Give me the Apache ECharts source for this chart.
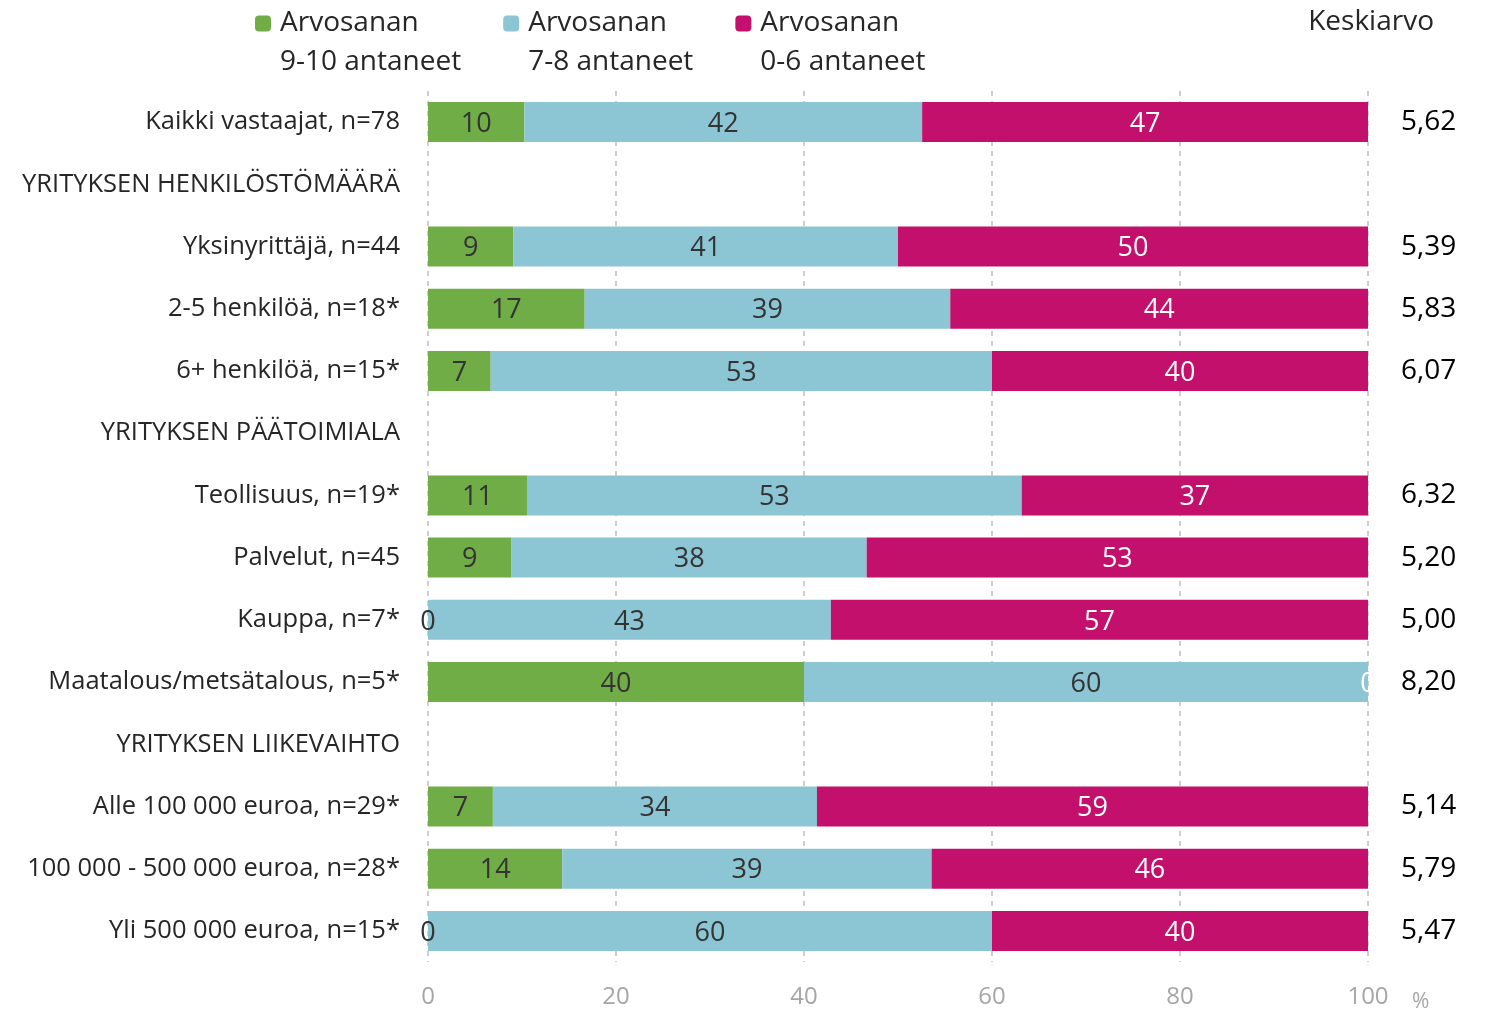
<!DOCTYPE html>
<html>
<head>
<meta charset="utf-8">
<title>Arvosanat</title>
<script src="https://cdn.jsdelivr.net/npm/echarts@6/dist/echarts.min.js"></script>
<style>
  html, body { margin: 0; padding: 0; background: #fff; }
  #chart { width: 1486px; height: 1016px; }
</style>
</head>
<body>
<div id="chart"></div>
<script>
// rivit ylhäältä alas, väliotsikoilla ei arvoja
var categories = [
	'Kaikki vastaajat, n=78',
	'YRITYKSEN HENKILÖSTÖMÄÄRÄ',
	'Yksinyrittäjä, n=44',
	'2-5 henkilöä, n=18*',
	'6+ henkilöä, n=15*',
	'YRITYKSEN PÄÄTOIMIALA',
	'Teollisuus, n=19*',
	'Palvelut, n=45',
	'Kauppa, n=7*',
	'Maatalous/metsätalous, n=5*',
	'YRITYKSEN LIIKEVAIHTO',
	'Alle 100 000 euroa, n=29*',
	'100 000 - 500 000 euroa, n=28*',
	'Yli 500 000 euroa, n=15*'
];
var grade910 = [10.26, null, 9.09, 16.67, 6.67, null, 10.53, 8.89, 0, 40, null, 6.90, 14.29, 0];
var grade78 = [42.31, null, 40.91, 38.89, 53.33, null, 52.63, 37.78, 42.86, 60, null, 34.48, 39.29, 60];
var grade06 = [47.43, null, 50, 44.44, 40, null, 36.84, 53.33, 57.14, 0, null, 58.62, 46.42, 40];
var averages = ['5,62', '', '5,39', '5,83', '6,07', '', '6,32', '5,20', '5,00', '8,20', '', '5,14', '5,79', '5,47'];
var xTicks = [0, 20, 40, 60, 80, 100];

var FONT = 'Open Sans';
var chart = echarts.init(document.getElementById('chart'));

function barLabel(color) {
	return {
		show: true,
		position: 'inside',
		offset: [0, 2],
		color: color,
		fontFamily: FONT,
		fontSize: 27,
		formatter: function (p) {
			return p.value == null ? '' : String(Math.round(p.value));
		}
	};
}

var option = {
	animation: false,
	color: ['#70ad47', '#8cc5d3', '#c3106c'],
	textStyle: { fontFamily: FONT },
	legend: {
		left: 250,
		top: -40,
		itemWidth: 16,
		itemHeight: 16,
		itemGap: 42,
		selectedMode: false,
		formatter: function (name) {
			// tyhjä rivi alkuun, jotta merkki asettuu ensimmäisen rivin kohdalle
			return '\n' + name;
		},
		textStyle: {
			fontFamily: FONT,
			fontSize: 28,
			color: '#262626',
			lineHeight: 39,
			padding: [0, 0, 0, 4]
		},
		data: ['Arvosanan\n9-10 antaneet', 'Arvosanan\n7-8 antaneet', 'Arvosanan\n0-6 antaneet']
	},
	graphic: [{
		type: 'text',
		right: 52,
		top: 8,
		style: { text: 'Keskiarvo', fontFamily: FONT, fontSize: 28, fill: '#262626' }
	}],
	grid: { left: 428, right: 118, top: 91, bottom: 54 },
	xAxis: {
		type: 'value',
		min: xTicks[0],
		max: xTicks[xTicks.length - 1],
		interval: 20,
		axisLine: { show: false },
		axisTick: { show: false },
		axisLabel: { color: '#a6a6a6', fontSize: 24, margin: 23, fontFamily: FONT },
		splitLine: { show: true, lineStyle: { color: '#bfbfbf', type: [5, 5], width: 1.5 } },
		name: '%',
		nameLocation: 'end',
		nameGap: 44,
		nameTextStyle: { color: '#a6a6a6', fontSize: 21, verticalAlign: 'top', padding: [30, 0, 0, 0] }
	},
	yAxis: [{
		type: 'category',
		inverse: true,
		data: categories,
		axisLine: { show: false },
		axisTick: { show: false },
		axisLabel: { color: '#262626', fontSize: 25.5, margin: 28, fontFamily: FONT }
	}, {
		type: 'category',
		inverse: true,
		position: 'right',
		data: averages,
		axisLine: { show: false },
		axisTick: { show: false },
		axisLabel: { color: '#000', fontSize: 28, margin: 33, align: 'left', fontFamily: FONT }
	}],
	series: [{
		name: 'Arvosanan\n9-10 antaneet',
		type: 'bar',
		stack: 'all',
		barWidth: 40,
		data: grade910,
		label: barLabel('#333')
	}, {
		name: 'Arvosanan\n7-8 antaneet',
		type: 'bar',
		stack: 'all',
		barWidth: 40,
		data: grade78,
		label: barLabel('#333')
	}, {
		name: 'Arvosanan\n0-6 antaneet',
		type: 'bar',
		stack: 'all',
		barWidth: 40,
		data: grade06,
		label: barLabel('#fff')
	}]
};

chart.setOption(option);
</script>
</body>
</html>
